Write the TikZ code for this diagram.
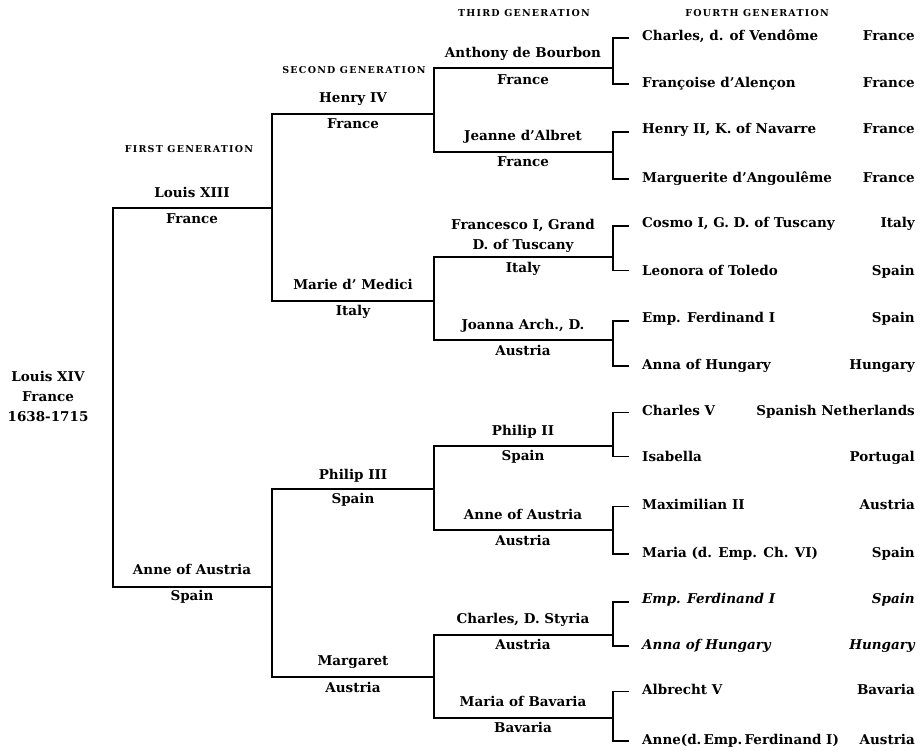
\documentclass[tikz,border=0pt]{standalone}
\usepackage{fontspec}
\setmainfont{DejaVu Serif}
\newcommand\namefont{\fontsize{13.5}{20}\selectfont\bfseries}
\newcommand\genfont{\fontsize{9.5}{10}\selectfont\bfseries\addfontfeatures{LetterSpace=13}}
\tikzset{
  ln/.style={line width=1.8pt, line cap=rect},
  nm/.style={font=\namefont, inner sep=0pt, anchor=mid},
  nl/.style={font=\namefont, inner sep=0pt, anchor=mid west},
  nr/.style={font=\namefont, inner sep=0pt, anchor=mid east},
  gen/.style={font=\genfont, inner sep=0pt, anchor=mid},
}
\begin{document}
\begin{tikzpicture}[x=1pt,y=-1pt]
\useasboundingbox (0,0) rectangle (923,751);
% ---------- generation headings
\node[gen] (h1) at (189,150) {FIRST GENERATION};
\node[gen] (h2) at (354,71) {SECOND GENERATION};
\node[gen] (h3) at (524,14) {THIRD GENERATION};
\node[gen] (h4) at (757,14) {FOURTH GENERATION};
% ---------- root
\node[font=\namefont, align=center, inner sep=0pt] (root) at (48,396) {Louis XIV\\France\\1638-1715};
% ---------- line coordinates
\coordinate (A) at (113,208); \coordinate (A2) at (272,208);
\coordinate (B) at (113,587); \coordinate (B2) at (272,587);
\coordinate (C) at (272,114); \coordinate (C2) at (434,114);
\coordinate (D) at (272,301); \coordinate (D2) at (434,301);
\coordinate (E) at (272,489); \coordinate (E2) at (434,489);
\coordinate (F) at (272,677); \coordinate (F2) at (434,677);
\foreach \n/\y in {1/68,2/152,3/257,4/340,5/446,6/530,7/635,8/718}{
  \coordinate (G\n) at (434,\y); \coordinate (G\n b) at (613,\y);
}
% ---------- tree lines
\draw[ln] (A2) -- (A) -- (B) -- (B2);
\draw[ln] (C2) -- (C) -- (D) -- (D2);
\draw[ln] (E2) -- (E) -- (F) -- (F2);
\draw[ln] (G1b) -- (G1) -- (G2) -- (G2b);
\draw[ln] (G3b) -- (G3) -- (G4) -- (G4b);
\draw[ln] (G5b) -- (G5) -- (G6) -- (G6b);
\draw[ln] (G7b) -- (G7) -- (G8) -- (G8b);
% ---------- first generation labels
\node[nm] (l13) at (192,195) {Louis XIII};
\node[nm] (l13c) at (192,221) {France};
\node[nm] (ann) at (192,572) {Anne of Austria};
\node[nm] (annc) at (192,598) {Spain};
% ---------- second generation labels
\node[nm] (h4n) at (353,100) {Henry IV};
\node[nm] (h4c) at (353,126) {France};
\node[nm] (mm) at (353,287) {Marie d' Medici};
\node[nm] (mmc) at (353,313) {Italy};
\node[nm] (p3) at (353,477) {Philip III};
\node[nm] (p3c) at (353,501) {Spain};
\node[nm] (mg) at (353,663) {Margaret};
\node[nm] (mgc) at (353,690) {Austria};
% ---------- third generation labels
\node[nm] (t1) at (523,55) {Anthony de Bourbon};
\node[nm] (t1c) at (523,82) {France};
\node[nm] (t2) at (523,138) {Jeanne d'Albret};
\node[nm] (t2c) at (523,164) {France};
\node[font=\namefont, align=center, inner sep=0pt, anchor=south] (t3) at (523,253) {Francesco I, Grand\\D. of Tuscany};
\node[nm] (t3c) at (523,270) {Italy};
\node[nm] (t4) at (523,327) {Joanna Arch., D.};
\node[nm] (t4c) at (523,353) {Austria};
\node[nm] (t5) at (523,433) {Philip II};
\node[nm] (t5c) at (523,458) {Spain};
\node[nm] (t6) at (523,517) {Anne of Austria};
\node[nm] (t6c) at (523,543) {Austria};
\node[nm] (t7) at (523,621) {Charles, D. Styria};
\node[nm] (t7c) at (523,647) {Austria};
\node[nm] (t8) at (523,704) {Maria of Bavaria};
\node[nm] (t8c) at (523,730) {Bavaria};
% ---------- fourth generation
\node[nl] (f1) at (642,38) {Charles, d. of Vendôme};       \node[nr] (f1c) at (915,38) {France};
\node[nl] (f2) at (642,85) {Françoise d'Alençon};          \node[nr] (f2c) at (915,85) {France};
\node[nl] (f3) at (642,131) {Henry II, K. of Navarre};     \node[nr] (f3c) at (915,131) {France};
\node[nl] (f4) at (642,180) {Marguerite d'Angoulême};      \node[nr] (f4c) at (915,180) {France};
\node[nl] (f5) at (642,225) {Cosmo I, G. D. of Tuscany};   \node[nr] (f5c) at (915,225) {Italy};
\node[nl] (f6) at (642,273) {Leonora of Toledo};           \node[nr] (f6c) at (915,273) {Spain};
\node[nl] (f7) at (642,320) {Emp. Ferdinand I};            \node[nr] (f7c) at (915,320) {Spain};
\node[nl] (f8) at (642,367) {Anna of Hungary};             \node[nr] (f8c) at (915,367) {Hungary};
\node[nl] (f9) at (642,413) {Charles V};                   \node[nr] (f9c) at (915,413) {Spanish Netherlands};
\node[nl] (f10) at (642,459) {Isabella};                   \node[nr] (f10c) at (915,459) {Portugal};
\node[nl] (f11) at (642,507) {Maximilian II};              \node[nr] (f11c) at (915,507) {Austria};
\node[nl] (f12) at (642,555) {Maria (d. Emp. Ch. VI)};     \node[nr] (f12c) at (915,555) {Spain};
\node[nl] (f13) at (642,601) {\itshape Emp. Ferdinand I};  \node[nr] (f13c) at (915,601) {\itshape Spain};
\node[nl] (f14) at (642,647) {\itshape Anna of Hungary};   \node[nr] (f14c) at (915,647) {\itshape Hungary};
\node[nl] (f15) at (642,692) {Albrecht V};                 \node[nr] (f15c) at (915,692) {Bavaria};
\node[nl] (f16) at (642,742) {Anne(d.\,Emp.\,Ferdinand I)}; \node[nr] (f16c) at (915,742) {Austria};
% ---------- brackets to fourth generation
\foreach \a/\b in {f1/f2,f3/f4,f5/f6,f7/f8,f9/f10,f11/f12,f13/f14,f15/f16}{
  \draw[ln] ([xshift=-14pt,yshift=-2pt]\a.west) -- ++(-15,0) |- ([xshift=-14pt]\b.west);
}
\end{tikzpicture}
\end{document}
